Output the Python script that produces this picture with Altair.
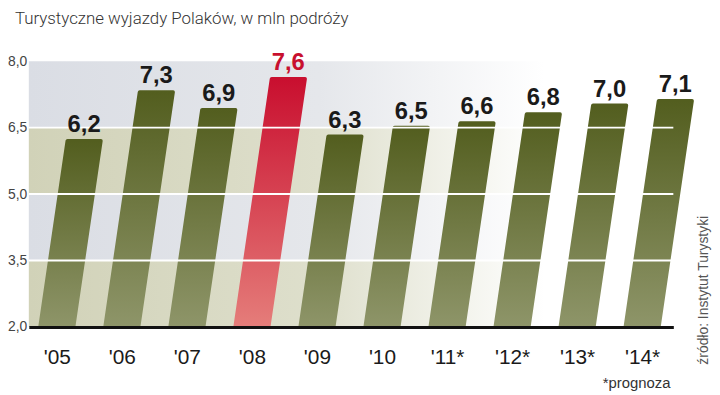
import json
import altair as alt
import pandas as pd

# ---- data ----
years = ["'05", "'06", "'07", "'08", "'09", "'10", "'11*", "'12*", "'13*", "'14*"]
values = [6.2, 7.3, 6.9, 7.6, 6.3, 6.5, 6.6, 6.8, 7.0, 7.1]
highlight = ["'08"]
y_ticks = [2.0, 3.5, 5.0, 6.5, 8.0]
grid_vals = [3.5, 5.0, 6.5]
band_lo = [2.0, 3.5, 5.0, 6.5]
band_hi = [3.5, 5.0, 6.5, 8.0]
band_kind = ["khaki", "blue", "khaki", "blue"]

BASE = 2.0
HALF = 0.255      # half bar width in category units
SLANT = 0.1       # horizontal lean per unit of value

W, H = 650, 268

rows = []
labels = []
for i, (yr, v) in enumerate(zip(years, values)):
    grp = "hi" if yr in highlight else "lo"
    shift = SLANT * (v - BASE)
    rows.append(dict(bar=yr, grp=grp, y=BASE, xl=i - HALF, xr=i + HALF))
    rows.append(dict(bar=yr, grp=grp, y=v, xl=i - HALF + shift, xr=i + HALF + shift))
    labels.append(dict(bar=yr, grp=grp, v=v, xc=i + shift,
                       txt=f"{v:.1f}".replace(".", ",")))
bars_df = pd.DataFrame(rows)
lab_df = pd.DataFrame(labels)
bands_df = pd.DataFrame(dict(lo=band_lo, hi=band_hi, kind=band_kind))
grid_df = pd.DataFrame(dict(g=grid_vals))

xscale = alt.Scale(domain=[-0.43, 9.48], nice=False, zero=False)
yscale = alt.Scale(domain=[2, 8], nice=False, zero=False)

x_label_expr = json.dumps(years) + "[round(datum.value)]"

def grad(c_top, c_bot):
    return alt.Gradient(gradient="linear", x1=0, y1=0, x2=0, y2=1,
                        stops=[alt.GradientStop(offset=0, color=c_top),
                               alt.GradientStop(offset=1, color=c_bot)])

def hgrad(c1, c2):
    return alt.Gradient(gradient="linear", x1=0, y1=0, x2=1, y2=0,
                        stops=[alt.GradientStop(offset=0, color=c1),
                               alt.GradientStop(offset=0.45, color=c2),
                               alt.GradientStop(offset=0.8, color="#ffffff"),
                               alt.GradientStop(offset=1, color="#ffffff")])

band_colors = {"khaki": ("#d1d2b8", "#dedfcc"), "blue": ("#dadde4", "#e5e7eb")}

bg_layers = []
for kind, (c1, c2) in band_colors.items():
    bg_layers.append(
        alt.Chart(bands_df).transform_filter(alt.datum.kind == kind)
        .mark_rect(fill=hgrad(c1, c2))
        .encode(y=alt.Y("lo:Q", scale=yscale), y2="hi:Q",
                x=alt.value(0), x2=alt.value(W))
    )

olive = grad("#535e1f", "#8e9569")
red = grad("#c90f2f", "#e57d7a")

def bar_layer(grp, g):
    return (alt.Chart(bars_df).transform_filter(alt.datum.grp == grp)
            .mark_area(orient="horizontal", fill=g, stroke=g, strokeWidth=4,
                       strokeJoin="round")
            .encode(y=alt.Y("y:Q", scale=yscale,
                            axis=alt.Axis(values=y_ticks, title=None, domain=False,
                                          ticks=False, grid=False, labelPadding=2,
                                          labelFontSize=14, labelColor="#444444",
                                          labelFont="Liberation Sans",
                                          labelExpr="replace(format(datum.value, '.1f'), '.', ',')")),
                    x=alt.X("xl:Q", scale=xscale, stack=None,
                            axis=alt.Axis(values=list(range(len(years))), title=None,
                                          domain=True, domainColor="#111111",
                                          domainWidth=3, ticks=False, grid=False,
                                          labelPadding=20, labelFontSize=21,
                                          labelColor="#1a1a1a", labelFont="Liberation Sans",
                                          labelExpr=x_label_expr, zindex=2)),
                    x2="xr:Q",
                    detail="bar:N"))

bars_lo = bar_layer("lo", olive)
bars_hi = bar_layer("hi", red)

grid = (alt.Chart(grid_df).mark_rule(color="#ffffff", strokeWidth=2)
        .encode(y=alt.Y("g:Q", scale=yscale), x=alt.value(0), x2=alt.value(W)))

val_text = (alt.Chart(lab_df)
            .mark_text(font="Liberation Sans", fontWeight="bold", fontSize=24,
                       baseline="alphabetic", dy=-9)
            .encode(x=alt.X("xc:Q", scale=xscale), y=alt.Y("v:Q", scale=yscale),
                    text="txt:N",
                    color=alt.Color("grp:N", scale=alt.Scale(domain=["lo", "hi"],
                                                             range=["#1a1a1a", "#c8102e"]),
                                    legend=None)))

title_df = pd.DataFrame(dict(t=["Turystyczne wyjazdy Polaków, w mln podróży"]))
title = (alt.Chart(title_df)
         .mark_text(font="Roboto", fontSize=17, fontWeight=300, color="#333333",
                    align="left", baseline="alphabetic")
         .encode(x=alt.value(-14), y=alt.value(-38), text="t:N"))

note_df = pd.DataFrame(dict(t=["*prognoza"]))
note = (alt.Chart(note_df)
        .mark_text(font="Liberation Sans", fontSize=15, color="#333333",
                   align="center", baseline="middle")
        .encode(x=alt.value(613), y=alt.value(57 + H), text="t:N"))

src_df = pd.DataFrame(dict(t=["źródło: Instytut Turystyki"]))
src = (alt.Chart(src_df)
       .mark_text(font="Liberation Sans", fontSize=14, color="#555555",
                  align="center", baseline="middle", angle=270)
       .encode(x=alt.value(681), y=alt.value(231), text="t:N"))

chart = (alt.layer(*bg_layers, bars_lo, bars_hi, grid, val_text, title, note, src)
         .properties(width=W, height=H,
                     autosize=alt.AutoSizeParams(type="none"),
                     padding={"left": 21, "top": 52, "right": 39, "bottom": 65})
         .configure_view(stroke=None))

chart.save("out.html", embed_options={"renderer": "svg", "actions": False})
